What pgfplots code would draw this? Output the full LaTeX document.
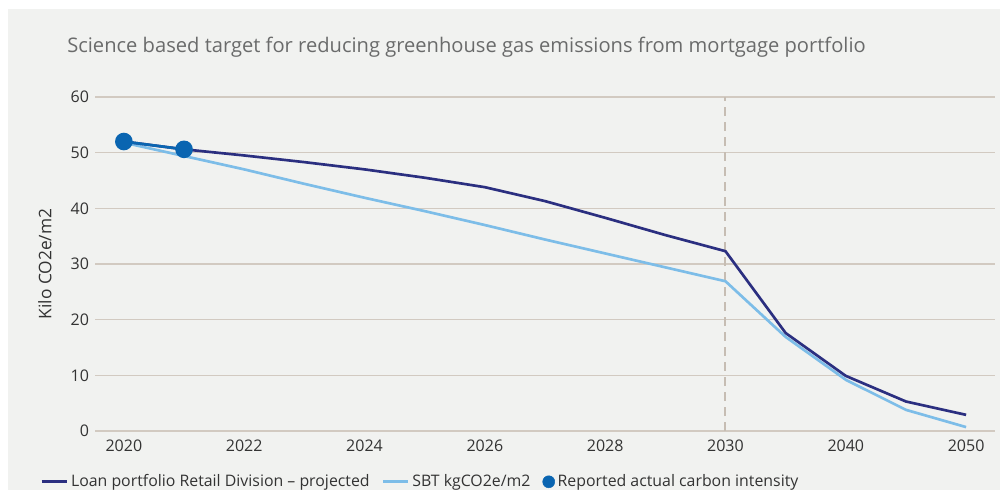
\documentclass[border=0pt]{standalone}
\usepackage{pgfplots}
\pgfplotsset{compat=1.18}
\usepackage{fontspec}
\setmainfont{Open Sans}
\definecolor{bg}{HTML}{F1F2F0}
\definecolor{navy}{HTML}{2B2F80}
\definecolor{sky}{HTML}{7DBDE8}
\definecolor{markblue}{HTML}{0A65B1}
\definecolor{gridc}{HTML}{D2CAC1}
\definecolor{dashc}{HTML}{C6BDB3}
\definecolor{titlec}{HTML}{6A6B6B}
\definecolor{txt}{HTML}{333333}
\begin{document}
\begin{tikzpicture}
\path[use as bounding box] (0pt,0pt) rectangle (750pt,-367.5pt);
\fill[white] (0pt,0pt) rectangle (750pt,-367.5pt);
\fill[bg] (6pt,-6.75pt) rectangle (750pt,-367.5pt);
\node[anchor=base west, text=titlec, font=\fontsize{15.1}{18}\selectfont, inner sep=0pt] at (50.25pt,-39pt) {Science based target for reducing greenhouse gas emissions from mortgage portfolio};
\begin{axis}[
  at={(71.25pt,-323.25pt)}, anchor=south west,
  scale only axis, width=675pt, height=250.5pt,
  xmin=-0.48, xmax=14.48, ymin=0, ymax=60,
  axis line style={draw=none},
  major tick style={draw=none},
  xtick={0,2,4,6,8,10,12,14},
  xticklabels={2020,2022,2024,2026,2028,2030,2040,2050},
  ytick={0,10,20,30,40,50,60},
  ymajorgrids, grid style={gridc, line width=1.1pt},
  /pgf/number format/assume math mode=true,
  tick label style={font=\fontsize{12}{14}\selectfont, text=txt},
  xticklabel style={yshift=-3pt},
  yticklabel style={xshift=-1pt},
  ylabel={Kilo CO2e/m2},
  ylabel style={at={(axis description cs:-0.0556,0.5)}, anchor=center, font=\fontsize{13}{15}\selectfont, text=txt},
  legend style={at={(-0.061,-0.152)}, anchor=west, draw=none, fill=none,
    font=\fontsize{11.9}{14}\selectfont, text=txt,
    legend columns=3, /tikz/every even column/.append style={column sep=7pt},
    inner sep=0pt},
  legend cell align=left,
  legend image code/.code={\draw[#1] (0pt,0pt) -- (19pt,0pt);},
]
\addlegendimage{navy, line width=2pt}
\addlegendentry{Loan portfolio Retail Division -- projected}
\addlegendimage{sky, line width=2pt}
\addlegendentry{SBT kgCO2e/m2}
\addlegendimage{legend image code/.code={\fill[markblue] (4.5pt,0pt) circle (4.5pt);}}
\addlegendentry{Reported actual carbon intensity}
\addplot[dashc, line width=1.5pt, dash pattern=on 6.75pt off 4.5pt, forget plot] coordinates {(10,0) (10,60)};
\addplot[sky, line width=2pt, forget plot] coordinates {
(0,51.8) (1,49.4) (2,47.0) (3,44.4) (4,41.9) (5,39.5) (6,37.0) (7,34.4) (8,31.9) (9,29.4) (10,26.9) (11,16.9) (12,9.2) (13,3.8) (14,0.7)};
\addplot[navy, line width=2pt, forget plot] coordinates {
(0,52.0) (1,50.6) (2,49.5) (3,48.3) (4,47.0) (5,45.5) (6,43.8) (7,41.3) (8,38.3) (9,35.2) (10,32.3) (11,17.6) (12,9.9) (13,5.3) (14,2.9)};
\addplot[markblue, line width=2pt, mark=*, mark size=5.6pt, forget plot] coordinates {(0,52.0) (1,50.6)};
\end{axis}
\end{tikzpicture}
\end{document}
